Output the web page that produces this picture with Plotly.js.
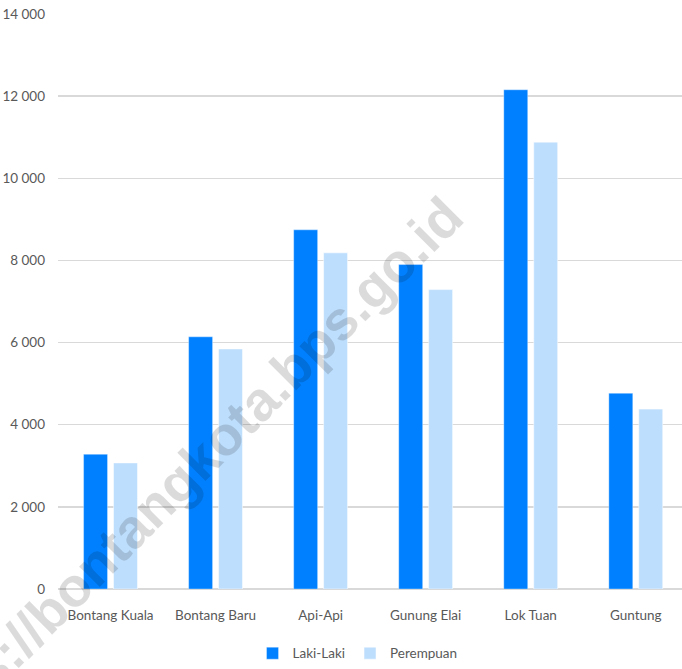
<!DOCTYPE html>
<html>
<head>
<meta charset="utf-8">
<script src="https://cdn.plot.ly/plotly-3.0.1.min.js"></script>
<style>html,body{margin:0;padding:0;background:#fff;}#chart{width:682px;height:669px;}</style>
</head>
<body>
<div id="chart"></div>
<script>
const categories = ["Bontang Kuala", "Bontang Baru", "Api-Api", "Gunung Elai", "Lok Tuan", "Guntung"];
const lakiLaki = [3280, 6140, 8745, 7900, 12155, 4765];
const perempuan = [3070, 5845, 8185, 7290, 10880, 4380];
const yTicks = [0, 2000, 4000, 6000, 8000, 10000, 12000, 14000];
const seriesNames = ["Laki-Laki", "Perempuan"];
const watermark = "https://bontangkota.bps.go.id";

const font = "Lato, 'Open Sans', sans-serif";

const traces = [
  {type: "bar", name: seriesNames[0], x: categories, y: lakiLaki,
   marker: {color: "#0080FF", line: {color: "rgba(255,255,255,0.35)", width: 1}}},
  {type: "bar", name: seriesNames[1], x: categories, y: perempuan,
   marker: {color: "#BDDEFD", line: {color: "rgba(255,255,255,0.5)", width: 1}}}
];

const layout = {
  width: 682, height: 669,
  margin: {l: 58, r: 0, t: 14, b: 77},
  paper_bgcolor: "#fff", plot_bgcolor: "#fff",
  separators: ", ",
  barmode: "group", bargap: 0.43, bargroupgap: 0.2,
  font: {family: font, size: 13.5, color: "#595959"},
  xaxis: {
    type: "category", range: [-0.5, 5.44],
    showgrid: false, showline: false, zeroline: false,
    ticks: "", ticklabelstandoff: 16,
    tickfont: {family: font, size: 13.5, color: "#595959"}
  },
  yaxis: {
    range: [0, 14000], tickvals: yTicks, tickformat: ",d",
    showgrid: true, gridcolor: "#D9D9D9", gridwidth: 1.5,
    zeroline: true, zerolinecolor: "#D9D9D9", zerolinewidth: 1.5,
    showline: false, ticks: "", ticklabelstandoff: 12,
    tickfont: {family: font, size: 13.5, color: "#595959"}
  },
  showlegend: true,
  legend: {orientation: "h", x: 0.48, xanchor: "center", y: -0.112, yanchor: "middle",
           font: {family: font, size: 13.5, color: "#595959"}, itemwidth: 30, traceorder: "normal"},
  annotations: [{
    text: watermark, xref: "paper", yref: "paper", x: 0.195, y: 0.19,
    xanchor: "center", yanchor: "middle", textangle: -45, showarrow: false,
    font: {family: "'Liberation Sans', Arial, sans-serif", size: 55, color: "rgba(0,0,0,0.14)", weight: "bold"}
  }]
};

Plotly.newPlot("chart", traces, layout, {displayModeBar: false, staticPlot: true});
</script>
</body>
</html>
